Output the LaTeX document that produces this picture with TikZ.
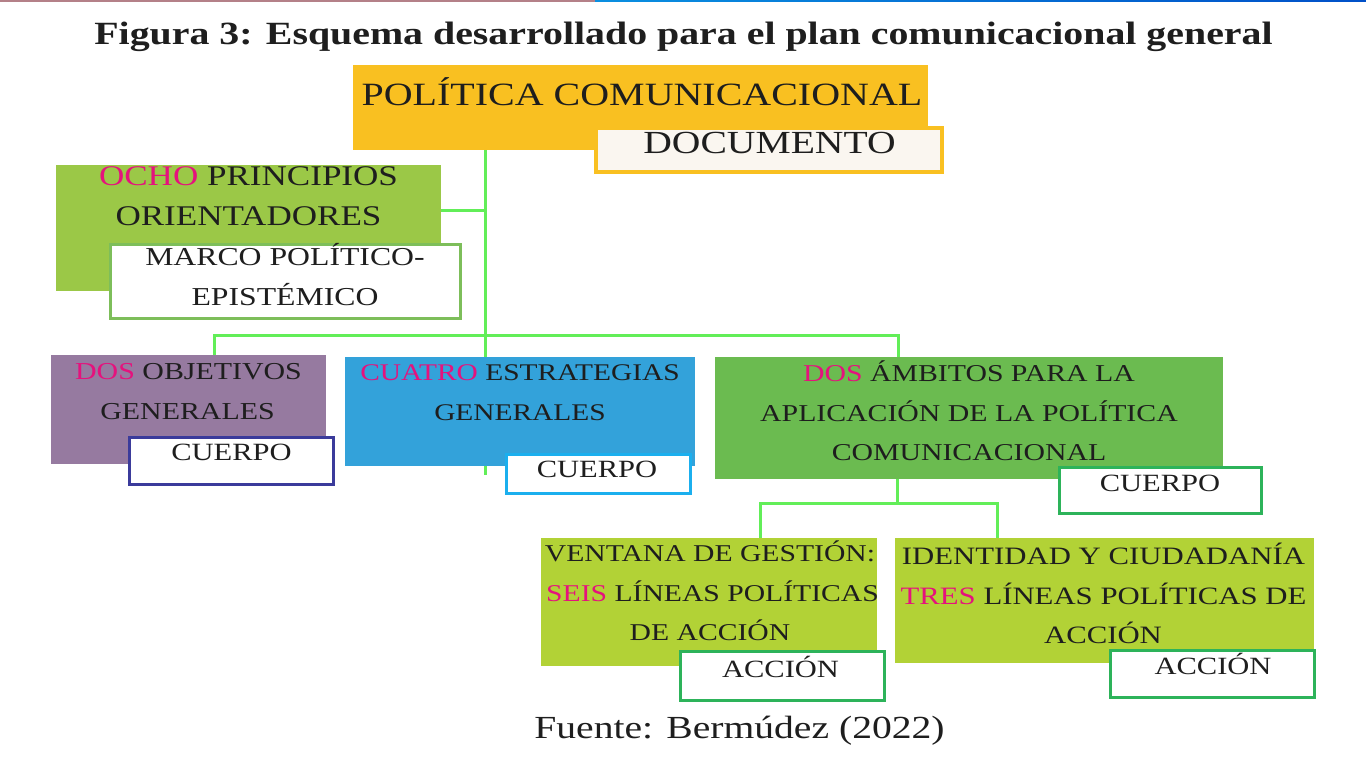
\documentclass[tikz,border=0pt]{standalone}
\usepackage{fontspec}
\setmainfont[FakeStretch=1.23]{Liberation Serif}
\usetikzlibrary{backgrounds}
\definecolor{ink}{HTML}{1E1E1E}
\definecolor{accent}{HTML}{E5127D}
\definecolor{polorange}{HTML}{F9C021}
\definecolor{docfill}{HTML}{FAF6F0}
\definecolor{ochogreen}{HTML}{9BC847}
\definecolor{marcoline}{HTML}{7DBE5A}
\definecolor{objpurple}{HTML}{967AA0}
\definecolor{objline}{HTML}{3B3B9B}
\definecolor{estblue}{HTML}{33A2DA}
\definecolor{estline}{HTML}{1BAFEE}
\definecolor{ambgreen}{HTML}{6BBB50}
\definecolor{boxline}{HTML}{2DB35A}
\definecolor{lime}{HTML}{B2D236}
\definecolor{link}{HTML}{62EE58}
\definecolor{stripa}{HTML}{B48088}
\definecolor{stripb}{HTML}{0A8FE0}
\definecolor{stripc}{HTML}{0050C8}
\newcommand{\fsz}[1]{\fontsize{#1}{#1}\selectfont}
\begin{document}
\begin{tikzpicture}[x=1pt,y=-1pt,
  box/.style={inner sep=0pt, outer sep=0pt, anchor=north west},
  tagbox/.style={box, fill=white, line width=3pt},
  lbl/.style={inner sep=0pt, anchor=base, text=ink},
  conn/.style={draw=link, line width=3pt}]
\useasboundingbox (0,0) rectangle (1366,768);
\fill[stripa] (0,0) rectangle (595,2);
\shade[left color=stripb, right color=stripc] (595,0) rectangle (1366,2);

% title
\node[lbl, font=\bfseries\fsz{32.4}] (title) at (683.5,44.3) {Figura 3: Esquema desarrollado para el plan comunicacional general};

% boxes
\node[box, fill=polorange, minimum width=575pt, minimum height=85pt] (pol) at (353,65) {};
\node[box, fill=docfill, draw=polorange, line width=4pt, minimum width=346pt, minimum height=44pt] (doc) at (596,128) {};
\node[box, fill=ochogreen, minimum width=385pt, minimum height=126pt] (ocho) at (56,165) {};
\node[tagbox, draw=marcoline, minimum width=350pt, minimum height=74pt] (marco) at (110,244.5) {};
\node[box, fill=objpurple, minimum width=275pt, minimum height=109pt] (obj) at (51,355) {};
\node[tagbox, draw=objline, minimum width=204pt, minimum height=47pt] (cuerpoA) at (129.5,437) {};
\node[box, fill=estblue, minimum width=350pt, minimum height=109pt] (est) at (345,357) {};
\node[tagbox, draw=estline, minimum width=184pt, minimum height=39pt] (cuerpoB) at (506.5,454) {};
\node[box, fill=ambgreen, minimum width=508pt, minimum height=122pt] (amb) at (715,357) {};
\node[tagbox, draw=boxline, minimum width=202pt, minimum height=46pt] (cuerpoC) at (1059.2,467.5) {};
\node[box, fill=lime, minimum width=336pt, minimum height=128pt] (ven) at (541,538) {};
\node[tagbox, draw=boxline, minimum width=204pt, minimum height=48.5pt] (accV) at (680.5,651.5) {};
\node[box, fill=lime, minimum width=419pt, minimum height=125pt] (ide) at (895,538) {};
\node[tagbox, draw=boxline, minimum width=204pt, minimum height=47pt] (accI) at (1110.5,650.5) {};

% texts
\node[lbl, font=\fsz{32.5}] (tpol) at (642,105) {POLÍTICA COMUNICACIONAL};
\node[lbl, font=\fsz{32.2}] (tdoc) at (769.5,153) {DOCUMENTO};
\node[lbl, font=\fsz{28.5}] (tocho1) at (248.5,185) {\textcolor{accent}{OCHO} PRINCIPIOS};
\node[lbl, font=\fsz{28.5}] (tocho2) at (248.5,225) {ORIENTADORES};
\node[lbl, font=\fsz{25.8}] (tmarco1) at (285,265) {MARCO POLÍTICO-};
\node[lbl, font=\fsz{25.8}] (tmarco2) at (285,305) {EPISTÉMICO};
\node[lbl, font=\fsz{24.3}] (tobj1) at (188.5,379) {\textcolor{accent}{DOS} OBJETIVOS};
\node[lbl, font=\fsz{24.3}] (tobj2) at (187.5,419) {GENERALES};
\node[lbl, font=\fsz{24.8}] (tcA) at (231.5,460.7) {CUERPO};
\node[lbl, font=\fsz{23.9}] (test1) at (520,380.7) {\textcolor{accent}{CUATRO} ESTRATEGIAS};
\node[lbl, font=\fsz{23.9}] (test2) at (520,420.7) {GENERALES};
\node[lbl, font=\fsz{24.8}] (tcB) at (597,477) {CUERPO};
\node[lbl, font=\fsz{24.2}] (tamb1) at (969,381) {\textcolor{accent}{DOS} ÁMBITOS PARA LA};
\node[lbl, font=\fsz{24.2}] (tamb2) at (969,421) {APLICACIÓN DE LA POLÍTICA};
\node[lbl, font=\fsz{24.2}] (tamb3) at (969,460.7) {COMUNICACIONAL};
\node[lbl, font=\fsz{24.8}] (tcC) at (1160,491.7) {CUERPO};
\node[lbl, font=\fsz{24.1}] (tven1) at (710,561) {VENTANA DE GESTIÓN:};
\node[lbl, font=\fsz{24.1}] (tven2) at (712.5,601) {\textcolor{accent}{SEIS} LÍNEAS POLÍTICAS};
\node[lbl, font=\fsz{24.1}] (tven3) at (710,640.7) {DE ACCIÓN};
\node[lbl, font=\fsz{24.8}] (taV) at (780.5,677.3) {ACCIÓN};
\node[lbl, font=\fsz{25}] (tide1) at (1103.5,564) {IDENTIDAD Y CIUDADANÍA};
\node[lbl, font=\fsz{25}] (tide2) at (1103.5,604) {\textcolor{accent}{TRES} LÍNEAS POLÍTICAS DE};
\node[lbl, font=\fsz{25}] (tide3) at (1103,643.3) {ACCIÓN};
\node[lbl, font=\fsz{24.8}] (taI) at (1213,674) {ACCIÓN};
\node[lbl, font=\fsz{32.2}] (source) at (739.5,738.3) {Fuente: Bermúdez (2022)};

% connectors
\coordinate (jA) at (485,210);
\coordinate (jB) at (485,335);
\coordinate (jEnd) at (485,475);
\coordinate (hL) at (214,335);
\coordinate (hR) at (898,335);
\coordinate (kM) at (897,503);
\coordinate (kL) at (760,503);
\coordinate (kR) at (997,503);
\begin{pgfonlayer}{background}
\fill[white] (0,2) rectangle (1366,768);
\draw[conn] (pol.south -| jEnd) -- (jEnd);
\draw[conn] (ocho.east |- jA) -- (jA);
\draw[conn] (hL |- obj.north) -- (hL) -- (hR) -- (hR |- amb.north);
\draw[conn] (amb.south -| kM) -- (kM);
\draw[conn] (kL |- ven.north) -- (kL) -- (kR) -- (kR |- ide.north);
\end{pgfonlayer}
\end{tikzpicture}
\end{document}
